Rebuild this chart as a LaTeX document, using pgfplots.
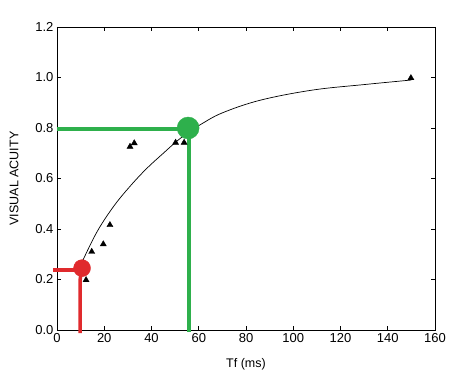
\documentclass[border=0pt]{standalone}
\usepackage{pgfplots}
\pgfplotsset{compat=1.18}
\usepackage{fontspec}
\setmainfont{Liberation Sans}
\definecolor{mygreen}{HTML}{2EB04C}
\definecolor{myred}{HTML}{E02A2D}
\begin{document}
\begin{tikzpicture}
\begin{axis}[
  name=ax,
  scale only axis,
  width=378pt, height=303pt,
  xmin=0, xmax=160, ymin=0, ymax=1.2,
  xtick={0,20,...,160},
  ytick={0,0.2,...,1.2},
  yticklabel style={/pgf/number format/.cd,fixed,fixed zerofill,precision=1},
  /pgf/number format/assume math mode=true,
  tick align=inside,
  tick pos=both,
  major tick length=4pt,
  axis line style={line width=0.9pt},
  tick style={black, line width=0.6pt},
  ticklabel style={font=\fontsize{13}{15}\selectfont},
  xlabel={Tf (ms)},
  ylabel={VISUAL ACUITY},
  label style={font=\fontsize{12.5}{15}\selectfont},
  xlabel style={yshift=-9pt},
  ylabel style={yshift=10pt},
  clip=false,
]
% fitted curve
\addplot[black, line width=0.7pt, smooth, tension=0.6] coordinates {
 (11,0.277) (17,0.39) (24,0.49) (31,0.57) (38,0.64) (45,0.70)
 (51,0.75) (56,0.785) (61,0.815) (70,0.86) (86,0.91) (108,0.95)
 (130,0.972) (150,0.99)
};
% data
\addplot[only marks, mark=triangle*, mark size=3.5pt, black] coordinates {
 (12.3,0.198) (14.7,0.31) (19.6,0.34) (22.4,0.416)
 (30.9,0.726) (32.7,0.740) (50.2,0.742) (53.8,0.742) (149.8,0.998)
};
% green annotation
\addplot[mygreen, line width=4.5pt] coordinates {(0,0.796) (55.9,0.796)};
\addplot[mygreen, line width=4.5pt] coordinates {(55.9,-0.006) (55.9,0.796)};
\addplot[only marks, mark=*, mark size=11pt, mygreen] coordinates {(55.5,0.80)};
% red annotation
\addplot[myred, line width=3.5pt] coordinates {(-1.7,0.238) (10.6,0.238)};
\addplot[myred, line width=3.5pt] coordinates {(9.8,-0.012) (9.8,0.2) (10.4,0.24)};
\addplot[only marks, mark=*, mark size=8.5pt, myred] coordinates {(10.6,0.245)};
\end{axis}
\pgfresetboundingbox
\path (ax.south west)++(-57pt,-48pt) coordinate (bl);
\path (ax.north east)++(32pt,27pt) coordinate (tr);
\path[use as bounding box] (bl) rectangle (tr);
\end{tikzpicture}
\end{document}
